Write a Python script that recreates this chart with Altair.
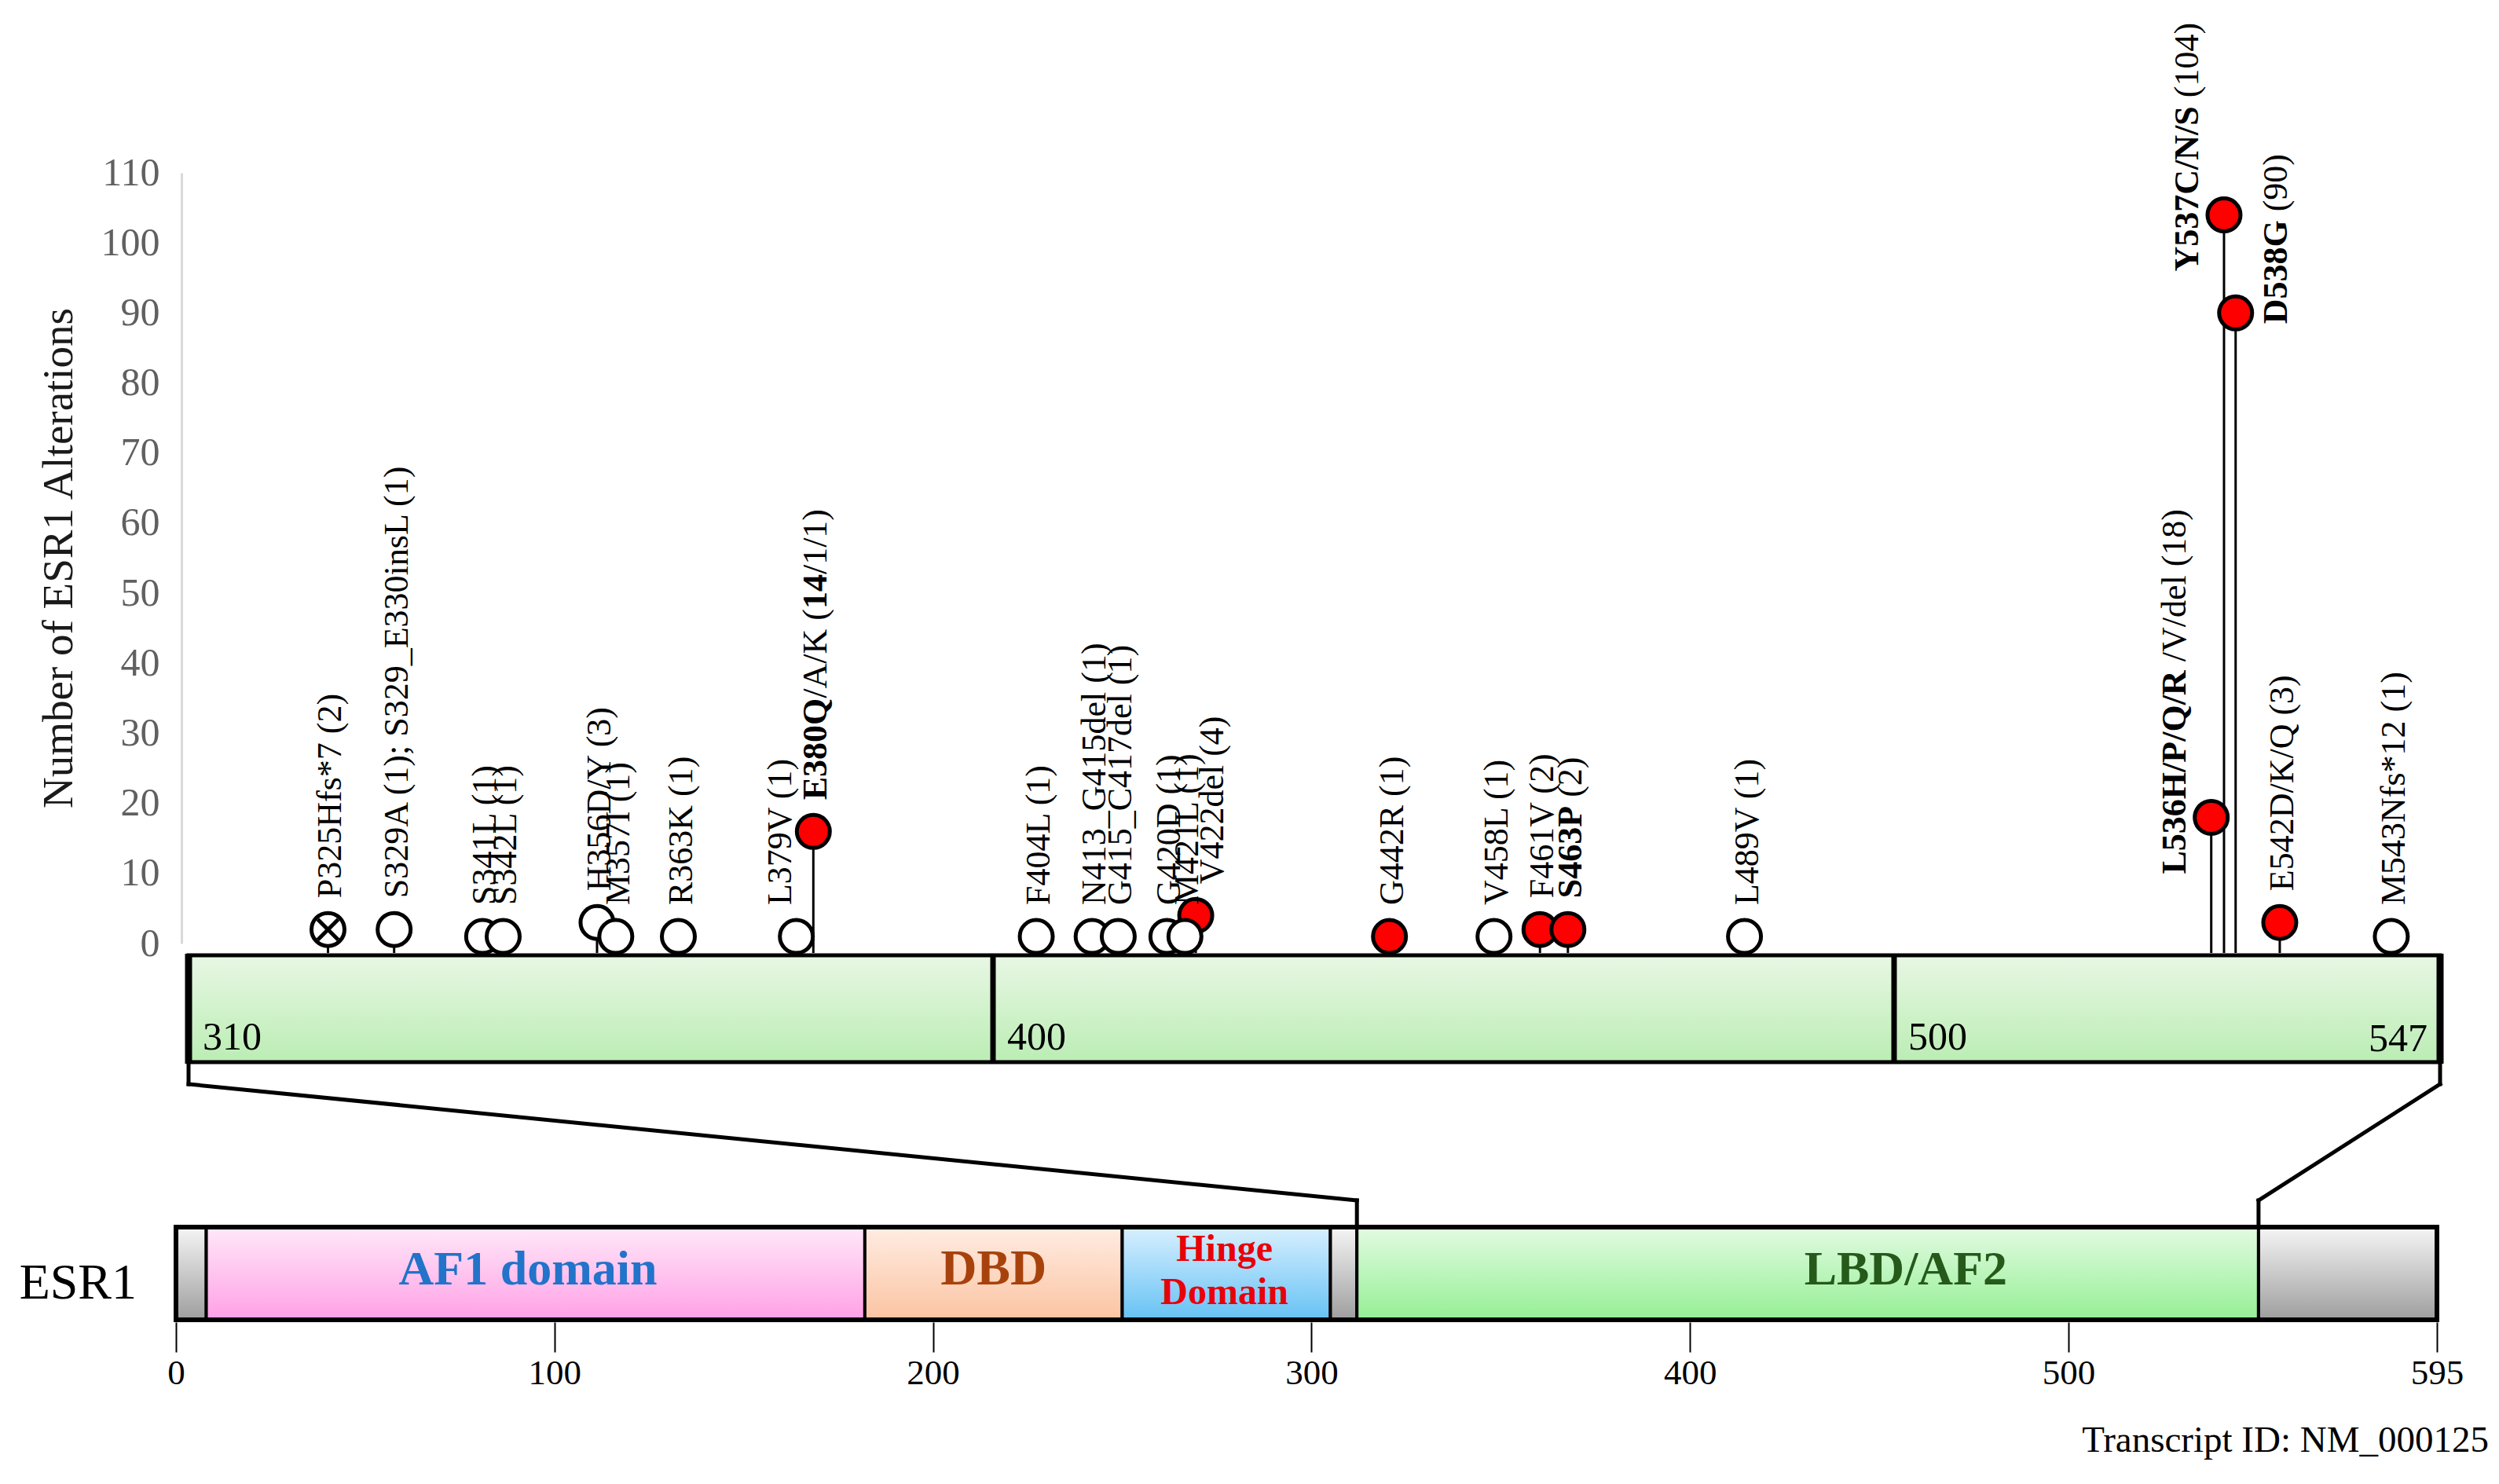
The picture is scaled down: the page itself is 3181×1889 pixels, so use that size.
import altair as alt
import pandas as pd

# ---------------- data ----------------
mut_labels = [
    "P325Hfs*7 (2)", "S329A (1); S329_E330insL (1)", "S341L (1)", "S342L (1)",
    "H356D/Y (3)", "M357I (1)", "R363K (1)", "L379V (1)",
    "**E380Q**/A/K (**14**/1/1)", "F404L (1)", "N413_G415del (1)", "G415_C417del (1)",
    "G420D (1)", "M421L (1)", "V422del (4)", "G442R (1)", "V458L (1)", "F461V (2)",
    "**S463P** (2)", "L489V (1)", "**L536H/P/Q/R** /V/del (18)", "**Y537C/N/S** (104)",
    "**D538G** (90)", "E542D/K/Q (3)", "M543Nfs*12 (1)",
]
# residue numbers named in the labels
mut_residue = [325, 329, 341, 342, 356, 357, 363, 379, 380, 404, 413, 415, 420, 421,
               422, 442, 458, 461, 463, 489, 536, 537, 538, 542, 543]
mut_drawn_at = [325.6, 333.0, 342.9, 345.2, 355.7, 357.8, 364.8, 378.0, 379.9, 404.8,
                411.0, 413.9, 419.3, 421.3, 422.5, 444.0, 455.6, 460.7, 463.8, 483.4,
                527.3, 528.4, 529.4, 533.2, 542.8]
mut_count = [2, 2, 1, 1, 3, 1, 1, 1, 16, 1, 1, 1, 1, 1, 4, 1, 1, 2, 2, 1, 18, 104, 90, 3, 1]
mut_kind = ["marked", "other", "other", "other", "other", "other", "other", "other",
            "hotspot", "other", "other", "other", "other", "other", "hotspot", "hotspot",
            "other", "hotspot", "hotspot", "other", "hotspot", "hotspot", "hotspot",
            "hotspot", "other"]

ruler_ticks = [310, 400, 500, 547]          # zoomed LBD ruler
domain_kind = ["tail", "AF1", "DBD", "hinge", "tail", "LBD", "tail"]
domain_text = ["", "AF1 domain", "DBD", "Hinge\nDomain", "", "LBD/AF2", ""]
domain_start = [0, 8, 182, 250, 305, 312, 549]
domain_end = [8, 182, 250, 305, 312, 549, 595]
domain_label_at = [None, 93, 216, 277, None, 457, None]
protein_ticks = [0, 100, 200, 300, 400, 500, 595]
protein_length = 595

# ---------------- layout / style ----------------
FONT = "Liberation Serif"
W, H = 2878, 1675
ZOOM_RANGE = [16, 1040, 2187, 2882]
PROT_KNOTS = [0, 500, 595]
PROT_RANGE = [0, 2409, 2878]
Y_RANGE = [1193, 212]
PPU = (Y_RANGE[0] - Y_RANGE[1]) / 110.0

UP_TOP, UP_BOT = 1208, 1344
LO_TOP, LO_BOT = 1554, 1672
KNEE_UP, KNEE_LO = 1372, 1520

LABEL_SIZE = 44
PLACE = {"L536": "left", "Y537": "left", "D538": "right", "L379": "nudge_l",
         "V422": "nudge_r"}
# (start offset along the text in px, sideways offset in px)
PLACE_STYLE = {"above": (40, 4), "nudge_l": (40, -20), "nudge_r": (40, 22),
               "left": (-72, -46), "right": (-14, 52)}

GRAD = {
    "tail": ("#f5f5f5", "#9e9e9e"),
    "AF1": ("#ffe8f8", "#ffa0e6"),
    "DBD": ("#ffece2", "#fbc4a2"),
    "hinge": ("#d8efff", "#66c2f4"),
    "LBD": ("#e2fbe2", "#95ef95"),
    "zoom": ("#e8f7e4", "#bbedb4"),
}
LABEL_STYLE = {
    "AF1": ("#2273c9", 62, 1627),
    "DBD": ("#a8420c", 64, 1627),
    "hinge": ("#e8000b", 48, 1597),
    "LBD": ("#255a1a", 62, 1627),
}

TIMES_R = {' ': 250, '(': 333, ')': 333, '*': 500, '/': 278, ';': 278, '_': 500,
           'A': 722, 'C': 667, 'D': 722, 'E': 611, 'F': 556, 'G': 722, 'H': 722,
           'I': 333, 'K': 722, 'L': 611, 'M': 889, 'N': 722, 'P': 556, 'Q': 722,
           'R': 667, 'S': 556, 'V': 722, 'Y': 722, 'a': 444, 'd': 500, 'e': 444,
           'f': 333, 'i': 278, 'l': 278, 'n': 500, 's': 389}
TIMES_B = {' ': 250, '(': 333, ')': 333, '/': 278, 'A': 722, 'C': 722, 'D': 722,
           'E': 667, 'G': 778, 'H': 778, 'K': 778, 'L': 667, 'M': 944, 'N': 722,
           'P': 611, 'Q': 778, 'R': 722, 'S': 556, 'V': 722, 'Y': 722}


def text_width(s, bold):
    table = TIMES_B if bold else TIMES_R
    return sum(table.get(c, 500) for c in s) / 1000.0 * LABEL_SIZE


def interp_ext(v, xs, ys):
    i = 0
    while i < len(xs) - 2 and v > xs[i + 1]:
        i += 1
    return ys[i] + (v - xs[i]) * (ys[i + 1] - ys[i]) / (xs[i + 1] - xs[i])


def zoom_to_protein(v):
    p = interp_ext(v, ruler_ticks, ZOOM_RANGE)
    return interp_ext(p, PROT_RANGE, PROT_KNOTS)


def grad(key):
    top, bot = GRAD[key]
    return alt.Gradient(gradient="linear", x1=0, x2=0, y1=0, y2=1,
                        stops=[alt.GradientStop(color=top, offset=0),
                               alt.GradientStop(color=bot, offset=1)])


# ---------------- tables ----------------
muts = pd.DataFrame({"label": [l.replace("**", "") for l in mut_labels],
                     "residue": mut_residue, "pos": mut_drawn_at,
                     "count": mut_count, "kind": mut_kind})

seg_rows = []
for lab, p, c in zip(mut_labels, mut_drawn_at, mut_count):
    place = PLACE.get(lab.replace("**", "")[:4], "above")
    start, _ = PLACE_STYLE[place]
    off = 0.0
    for i, part in enumerate(lab.split("**")):
        if not part:
            continue
        bold = i % 2 == 1
        lead = len(part) - len(part.lstrip(" "))
        off += text_width(" " * lead, bold)
        seg_rows.append({"pos": p, "seg": part.strip(), "bold": bold, "place": place,
                         "ty": c + (start + off) / PPU})
        off += text_width(part.lstrip(" "), bold)
segs = pd.DataFrame(seg_rows)

zoom_bar = pd.DataFrame({"start": [ruler_ticks[0]], "end": [ruler_ticks[-1]]})
ruler = pd.DataFrame({"tick": ruler_ticks, "txt": [str(t) for t in ruler_ticks]})
domains = pd.DataFrame({"kind": domain_kind, "text": domain_text, "start": domain_start,
                        "end": domain_end, "at": domain_label_at})
lbd = domains[domains.kind == "LBD"].iloc[0]
conn = pd.DataFrame({
    "top": [zoom_to_protein(ruler_ticks[0]), zoom_to_protein(ruler_ticks[-1])],
    "bottom": [lbd.start, lbd.end],
})
whole = pd.DataFrame({"start": [0], "end": [protein_length]})

# ---------------- scales / axes ----------------
ZS = alt.Scale(domain=ruler_ticks, range=ZOOM_RANGE, zero=False, nice=False)
PS = alt.Scale(domain=PROT_KNOTS, range=PROT_RANGE, zero=False, nice=False)
YS = alt.Scale(domain=[0, 110], range=Y_RANGE, zero=False, nice=False)

Y_AXIS = alt.Axis(values=list(range(0, 111, 10)), grid=False, ticks=False, tickSize=0,
                  domain=True, domainColor="#d9d9d9", domainWidth=3, offset=-7,
                  labelFont=FONT, labelFontSize=50, labelColor="#606060", labelPadding=28,
                  title="Number of ESR1 Alterations", titleFont=FONT, titleFontSize=55,
                  titleFontWeight="normal", titleColor="#1a1a1a", titleAngle=270,
                  titleX=-140, titleY=702, titleAlign="center", titleBaseline="alphabetic")
X_AXIS = alt.Axis(values=protein_ticks, orient="bottom", domain=False, grid=False,
                  ticks=True, tickSize=38, tickWidth=2, tickColor="black",
                  labelFont=FONT, labelFontSize=45, labelColor="black", labelPadding=4,
                  labelFlush=False, labelOverlap=False, title=None)


def zx(field):
    return alt.X(field, type="quantitative", scale=ZS, axis=None)


def px(field):
    return alt.X(field, type="quantitative", scale=PS, axis=X_AXIS)


def yy(field):
    return alt.Y(field, type="quantitative", scale=YS, axis=Y_AXIS)


# ---------------- upper (zoomed LBD) ----------------
up = []
up.append(alt.Chart(zoom_bar).mark_rect(fill=grad("zoom"), stroke="black", strokeWidth=5)
          .encode(x=zx("start"), x2="end", y=alt.value(UP_TOP), y2=alt.value(UP_BOT)))
up.append(alt.Chart(ruler[(ruler.tick > ruler_ticks[0]) & (ruler.tick < ruler_ticks[-1])])
          .mark_rule(color="black", strokeWidth=7)
          .encode(x=zx("tick"), y=alt.value(UP_TOP), y2=alt.value(UP_BOT)))
up.append(alt.Chart(ruler[(ruler.tick == ruler_ticks[0]) | (ruler.tick == ruler_ticks[-1])])
          .mark_rule(color="black", strokeWidth=9)
          .encode(x=zx("tick"), y=alt.value(UP_TOP - 2), y2=alt.value(UP_BOT + 2)))
up.append(alt.Chart(ruler[ruler.tick < ruler_ticks[-1]])
          .mark_text(font=FONT, fontSize=50, align="left", baseline="alphabetic", dx=18,
                     color="black")
          .encode(x=zx("tick"), y=alt.value(1328), text="txt"))
up.append(alt.Chart(ruler[ruler.tick == ruler_ticks[-1]])
          .mark_text(font=FONT, fontSize=50, align="right", baseline="alphabetic", dx=-16,
                     color="black")
          .encode(x=zx("tick"), y=alt.value(1330), text="txt"))
up.append(alt.Chart(muts).mark_rule(color="black", strokeWidth=3)
          .encode(x=zx("pos"), y=yy("count"), y2=alt.value(UP_TOP - 3)))
FILL = alt.Scale(domain=["hotspot", "other", "marked"], range=["#ff0000", "#ffffff", "#ffffff"])
for k in ["hotspot", "other", "marked"]:
    up.append(alt.Chart(muts[muts.kind == k])
              .mark_circle(size=1764, stroke="black", strokeWidth=5, opacity=1, fillOpacity=1)
              .encode(x=zx("pos"), y=yy("count"),
                      fill=alt.Fill("kind:N", scale=FILL, legend=None)))
up.append(alt.Chart(muts[muts.kind == "marked"])
          .mark_point(shape="M-0.62,-0.62L0.62,0.62M-0.62,0.62L0.62,-0.62", size=1764,
                      color="black", strokeWidth=5, opacity=1)
          .encode(x=zx("pos"), y=yy("count")))
for place, (_, dy) in PLACE_STYLE.items():
    for bold in [False, True]:
        sub = segs[(segs.place == place) & (segs.bold == bold)]
        if len(sub) == 0:
            continue
        up.append(alt.Chart(sub)
                  .mark_text(font=FONT, fontSize=LABEL_SIZE, angle=270, align="left",
                             baseline="middle", dy=dy, color="black",
                             fontWeight="bold" if bold else "normal")
                  .encode(x=zx("pos"), y=yy("ty"), text="seg"))
upper = alt.layer(*up)

# ---------------- lower (full protein) ----------------
lo = []
for i, row in domains.iterrows():
    lo.append(alt.Chart(domains.iloc[[i]])
              .mark_rect(fill=grad(row.kind), stroke="black", strokeWidth=4)
              .encode(x=px("start"), x2="end", y=alt.value(LO_TOP), y2=alt.value(LO_BOT)))
lo.append(alt.Chart(whole).mark_rect(fillOpacity=0, stroke="black", strokeWidth=6)
          .encode(x=px("start"), x2="end", y=alt.value(LO_TOP), y2=alt.value(LO_BOT)))
for i, row in domains.iterrows():
    if not row.text:
        continue
    col, size, base = LABEL_STYLE[row.kind]
    lo.append(alt.Chart(domains.iloc[[i]])
              .mark_text(font=FONT, fontSize=size, fontWeight="bold", color=col,
                         align="center", baseline="alphabetic", lineBreak="\n",
                         lineHeight=55)
              .encode(x=px("at"), y=alt.value(base), text="text"))
CONN = dict(color="black", strokeWidth=5, strokeCap="square")
lo.append(alt.Chart(conn).mark_rule(**CONN)
          .encode(x=px("top"), y=alt.value(UP_BOT), y2=alt.value(KNEE_UP)))
lo.append(alt.Chart(conn).mark_rule(**CONN)
          .encode(x=px("top"), x2="bottom", y=alt.value(KNEE_UP), y2=alt.value(KNEE_LO)))
lo.append(alt.Chart(conn).mark_rule(**CONN)
          .encode(x=px("bottom"), y=alt.value(KNEE_LO), y2=alt.value(LO_TOP)))
lo.append(alt.Chart(pd.DataFrame({"t": ["ESR1"]}))
          .mark_text(font=FONT, fontSize=64, align="right", baseline="alphabetic",
                     color="black")
          .encode(x=alt.value(-50), y=alt.value(1645), text="t"))
lo.append(alt.Chart(pd.DataFrame({"t": ["Transcript ID: NM_000125"]}))
          .mark_text(font=FONT, fontSize=47, align="right", baseline="alphabetic",
                     color="black")
          .encode(x=alt.value(2944), y=alt.value(1840), text="t"))
lower = alt.layer(*lo)

chart = (alt.layer(upper, lower)
         .resolve_scale(x="independent")
         .resolve_axis(x="independent")
         .properties(width=W, height=H, background="white",
                     padding={"left": 216, "top": 0, "right": 71, "bottom": 198},
                     autosize=alt.AutoSizeParams(type="none"))
         .configure_view(strokeWidth=0))

chart.save("out.html", embed_options={"renderer": "svg", "actions": False})
